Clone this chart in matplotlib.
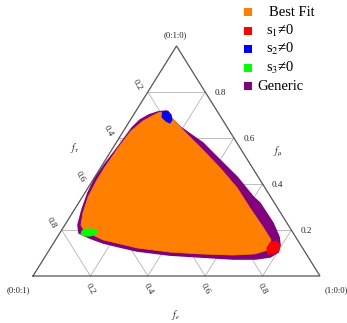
import numpy as np
import matplotlib
matplotlib.use("Agg")
import matplotlib.pyplot as plt
from matplotlib.patches import Polygon, Rectangle

plt.rcParams['font.family'] = ['Liberation Serif', 'DejaVu Serif']
plt.rcParams['mathtext.fontset'] = 'stix'

# Region outlines as ternary fractions (f_e, f_mu); f_tau = 1 - f_e - f_mu
generic_fe = [0.105, 0.079, 0.054, 0.034, 0.023, 0.016, 0.008, 0.004, 0.011,
              0.027, 0.046, 0.067, 0.116, 0.172, 0.240, 0.308, 0.432, 0.541,
              0.660, 0.737, 0.785, 0.802, 0.793, 0.772, 0.721, 0.632, 0.595,
              0.496, 0.399, 0.303, 0.188, 0.143]
generic_fmu = [0.717, 0.713, 0.700, 0.678, 0.643, 0.561, 0.491, 0.426, 0.361,
               0.287, 0.222, 0.187, 0.165, 0.144, 0.126, 0.109, 0.091, 0.083,
               0.074, 0.074, 0.083, 0.104, 0.135, 0.170, 0.230, 0.317, 0.344,
               0.430, 0.504, 0.578, 0.648, 0.683]

bestfit_fe = [0.104, 0.086, 0.062, 0.046, 0.026, 0.018, 0.014, 0.014, 0.020,
              0.037, 0.056, 0.080, 0.166, 0.302, 0.425, 0.534, 0.651, 0.726,
              0.762, 0.751, 0.695, 0.608, 0.520, 0.417, 0.318, 0.205, 0.141]
bestfit_fmu = [0.705, 0.713, 0.691, 0.674, 0.630, 0.557, 0.474, 0.417, 0.344,
               0.274, 0.222, 0.196, 0.157, 0.122, 0.104, 0.096, 0.091, 0.096,
               0.113, 0.157, 0.213, 0.296, 0.383, 0.470, 0.548, 0.635, 0.687]

s1_fe = [0.754, 0.771, 0.793, 0.801, 0.792, 0.771, 0.754]
s1_fmu = [0.144, 0.152, 0.135, 0.113, 0.096, 0.096, 0.122]

s2_fe = [0.096, 0.111, 0.131, 0.145, 0.144, 0.126, 0.104]
s2_fmu = [0.713, 0.717, 0.700, 0.678, 0.665, 0.674, 0.691]

s3_fe = [0.073, 0.083, 0.107, 0.125, 0.128, 0.112, 0.091, 0.076]
s3_fmu = [0.196, 0.204, 0.204, 0.196, 0.183, 0.174, 0.174, 0.183]

grid_values = [0.2, 0.4, 0.6, 0.8]
tick_labels = ["0.2", "0.4", "0.6", "0.8"]
corner_labels = ["(1:0:0)", "(0:1:0)", "(0:0:1)"]
legend_labels = ["Best Fit", "s$_1$\u22600", "s$_2$\u22600", "s$_3$\u22600", "Generic"]
legend_colors = ["#FF8000", "#FF0000", "#0000FF", "#00FF00", "#800080"]

W, H = 347, 323


def to_xy(fe, fmu):
    fe = np.asarray(fe, dtype=float)
    fmu = np.asarray(fmu, dtype=float)
    return fe + fmu / 2.0, fmu


fig = plt.figure(figsize=(W / 100, H / 100), dpi=100)
ax = fig.add_axes([0, 0, 1, 1])
ax.set_xlim(-33 / 287, 314 / 287)
ax.set_ylim(-47 / 230, 276 / 230)
ax.axis('off')

# grid lines for each of the three fractions
gcol = '#b4b4b4'
for v in grid_values:
    x, y = to_xy([0, 1 - v], [v, v])
    ax.plot(x, y, color=gcol, lw=0.6, zorder=1)
    x, y = to_xy([v, v], [0, 1 - v])
    ax.plot(x, y, color=gcol, lw=0.6, zorder=1)
    x, y = to_xy([1 - v, 0], [0, 1 - v])
    ax.plot(x, y, color=gcol, lw=0.6, zorder=1)

# outer triangle
x, y = to_xy([0, 1, 0, 0], [0, 0, 1, 0])
ax.plot(x, y, color='#555555', lw=0.9, zorder=6, solid_joinstyle='miter')

# allowed regions
def region(fe, fmu, color, z, lw=0.0):
    x, y = to_xy(fe, fmu)
    ax.add_patch(Polygon(np.column_stack([x, y]), closed=True, facecolor=color,
                         edgecolor=color, lw=lw, joinstyle='round', zorder=z))

region(generic_fe, generic_fmu, legend_colors[4], 2, lw=1.2)
region(bestfit_fe, bestfit_fmu, legend_colors[0], 3, lw=0.5)
region(s1_fe, s1_fmu, legend_colors[1], 4, lw=0.8)
region(s2_fe, s2_fmu, legend_colors[2], 4, lw=0.8)
region(s3_fe, s3_fmu, legend_colors[3], 4, lw=0.8)

# tick labels
fs = 6.6
for v, lab in zip(grid_values, tick_labels):
    ax.annotate(lab, xy=to_xy(v, 0), xytext=(0, -13), textcoords='offset pixels',
                ha='center', va='center', rotation=-60, fontsize=fs, color='#222222')
    ax.annotate(lab, xy=to_xy(1 - v, v), xytext=(15, -1), textcoords='offset pixels',
                ha='center', va='center', fontsize=fs, color='#222222')
    ax.annotate(lab, xy=to_xy(0, 1 - v), xytext=(-10.5, 7.5), textcoords='offset pixels',
                ha='center', va='center', rotation=-60, fontsize=fs, color='#222222')

# axis titles
ax.annotate(r'$f_e$', xy=to_xy(0.5, 0), xytext=(-1.5, -39), textcoords='offset pixels',
            ha='center', va='center', fontsize=7, color='#222222')
ax.annotate(r'$f_\mu$', xy=to_xy(0.5, 0.5), xytext=(29, 9), textcoords='offset pixels',
            ha='center', va='center', fontsize=7, color='#222222')
ax.annotate(r'$f_\tau$', xy=to_xy(0, 0.5), xytext=(-30, 13), textcoords='offset pixels',
            ha='center', va='center', fontsize=7, color='#222222')

# corner labels
ax.annotate(corner_labels[0], xy=to_xy(1, 0), xytext=(16, -14), textcoords='offset pixels',
            ha='center', va='center', fontsize=6.2, color='#222222')
ax.annotate(corner_labels[1], xy=to_xy(0, 1), xytext=(-1, 11), textcoords='offset pixels',
            ha='center', va='center', fontsize=6.2, color='#222222')
ax.annotate(corner_labels[2], xy=to_xy(0, 0), xytext=(-15, -14), textcoords='offset pixels',
            ha='center', va='center', fontsize=6.2, color='#222222')

# legend
leg_y = [12, 31, 49, 68, 86]
leg_tx = [269, 266, 266, 266, 257]
sq = 8.5
for lab, col, yy, tx in zip(legend_labels, legend_colors, leg_y, leg_tx):
    fig.patches.append(Rectangle(((248 - sq / 2) / W, 1 - (yy + sq / 2) / H), sq / W, sq / H,
                                 transform=fig.transFigure, facecolor=col, edgecolor='none'))
    fig.text(tx / W, 1 - yy / H, lab, ha='left', va='center', fontsize=10.5, color='black')

fig.savefig('out.png', dpi=100)
